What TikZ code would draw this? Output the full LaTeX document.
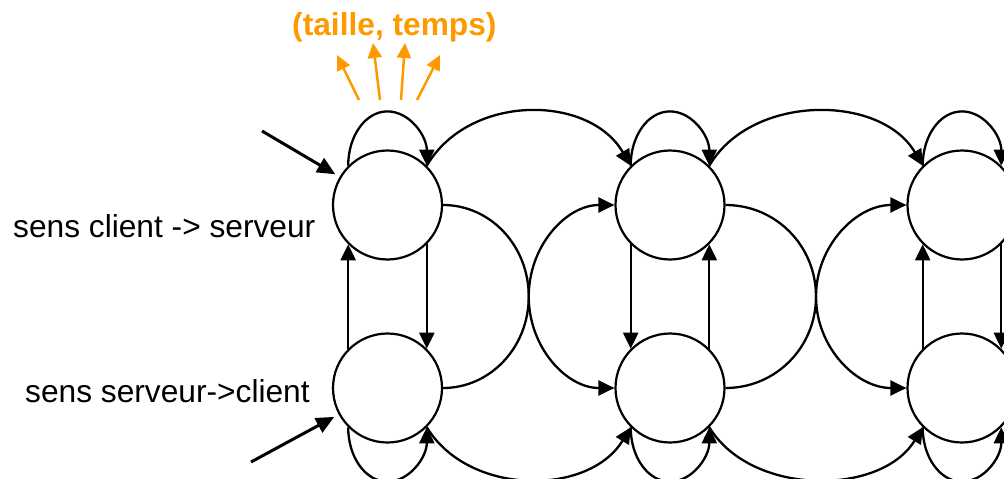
\documentclass[tikz,border=0pt]{standalone}
\usepackage{fontspec}
\setmainfont{Liberation Sans}
\usetikzlibrary{arrows.meta,calc}
\definecolor{orng}{RGB}{255,153,0}
\begin{document}
\begin{tikzpicture}[x=1pt,y=-1pt,
  st/.style={circle,draw,line width=2.2pt,minimum size=109pt,inner sep=0pt,fill=white},
  conn/.style={line width=2.3pt,-{Triangle[length=16pt,width=15pt]}},
  entryarr/.style={line width=3pt,-{Triangle[length=18pt,width=16pt]},shorten >=5pt},
  emit/.style={line width=2.5pt,draw=orng,-{Triangle[length=15pt,width=14pt]}},
  lbl/.style={font=\fontsize{31.7}{38}\selectfont,inner sep=0pt,anchor=base west},
]
\useasboundingbox (0,0) rectangle (1004,479);
\clip (0,0) rectangle (1004,479);

% states
\node[st] (t1) at (387.5,205) {};
\node[st] (b1) at (387.5,388) {};
\node[st] (t2) at (670,205) {};
\node[st] (b2) at (670,388) {};
\node[st] (t3) at (962,205) {};
\node[st] (b3) at (962,388) {};

% labels
\node[lbl] (l1) at (13,237) {sens client -> serveur};
\node[lbl] (l2) at (25,402) {sens serveur->client};
\node[lbl,text=orng,font={\fontsize{31.7}{38}\selectfont\bfseries}] (ot) at (292,35) {(taille, temps)};

% entry arrows
\coordinate (e1) at (262,131);
\coordinate (e2) at (251,462);
\draw[entryarr] (e1) -- (t1);
\draw[entryarr] (e2) -- (b1);

% orange arrows
\coordinate (o1s) at (359,100); \coordinate (o1e) at (337,55);
\coordinate (o2s) at (380,100); \coordinate (o2e) at (373,43);
\coordinate (o3s) at (401,100); \coordinate (o3e) at (405,43);
\coordinate (o4s) at (417,100); \coordinate (o4e) at (440,55);
\draw[emit] (o1s) -- (o1e);
\draw[emit] (o2s) -- (o2e);
\draw[emit] (o3s) -- (o3e);
\draw[emit] (o4s) -- (o4e);

% self loops top
\foreach \n in {t1,t2,t3}{
  \coordinate (\n p) at ($(\n.north)+(0,-38)$);
  \draw[conn] (\n.135) .. controls +(0,-30) and +(-22,0) .. (\n p)
              .. controls +(22,0) and +(0,-30) .. (\n.45);
}
% self loops bottom
\foreach \n in {b1,b2,b3}{
  \coordinate (\n p) at ($(\n.south)+(0,38)$);
  \draw[conn] (\n.225) .. controls +(0,30) and +(-22,0) .. (\n p)
              .. controls +(22,0) and +(0,30) .. (\n.315);
}

% top arcs
\draw[conn] (t1.45) .. controls +(42,-72) and +(-42,-72) .. (t2.135);
\draw[conn] (t2.45) .. controls +(42,-72) and +(-42,-72) .. (t3.135);
% bottom arcs
\draw[conn] (b1.315) .. controls +(42,69) and +(-42,69) .. (b2.225);
\draw[conn] (b2.315) .. controls +(42,69) and +(-42,69) .. (b3.225);

% vertical arrows
\draw[conn] (b1.135) -- (t1.225);
\draw[conn] (t1.315) -- (b1.45);
\draw[conn] (t2.225) -- (b2.135);
\draw[conn] (b2.45) -- (t2.315);
\draw[conn] (b3.135) -- (t3.225);
\draw[conn] (t3.315) -- (b3.45);

% crossing S-curves
\coordinate (m12) at ($(t1.east)!0.5!(b2.west)$);
\coordinate (m23) at ($(t2.east)!0.5!(b3.west)$);
\draw[conn] (t1.east) .. controls +(47,0) and +(0,-51) .. (m12) .. controls +(0,51) and +(-48,0) .. (b2.west);
\draw[conn] (b1.east) .. controls +(47,0) and +(0,51) .. (m12) .. controls +(0,-51) and +(-48,0) .. (t2.west);
\draw[conn] (t2.east) .. controls +(50,0) and +(0,-51) .. (m23) .. controls +(0,51) and +(-50,0) .. (b3.west);
\draw[conn] (b2.east) .. controls +(50,0) and +(0,51) .. (m23) .. controls +(0,-51) and +(-50,0) .. (t3.west);
\end{tikzpicture}
\end{document}
